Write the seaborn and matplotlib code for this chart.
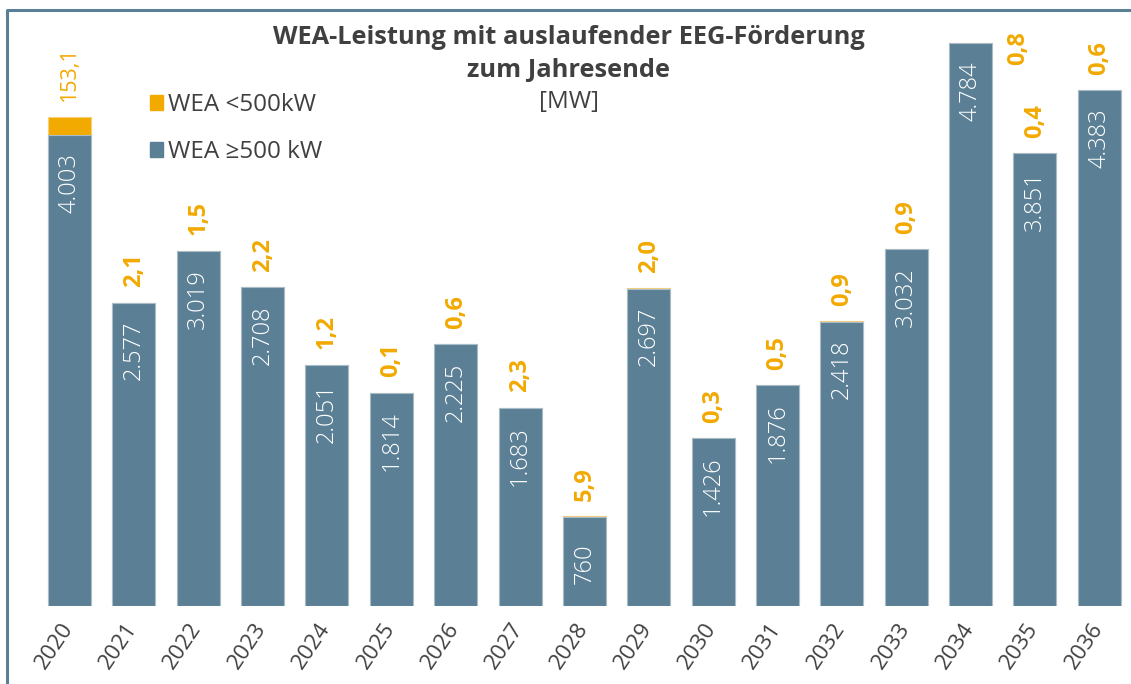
import matplotlib
matplotlib.use("Agg")
import matplotlib.pyplot as plt
import matplotlib.transforms as mtransforms
from matplotlib.patches import Patch
from matplotlib.lines import Line2D
import seaborn as sns
import pandas as pd

# Data (MW)
years = [str(y) for y in range(2020, 2037)]
wea_large = [4003, 2577, 3019, 2708, 2051, 1814, 2225, 1683, 760, 2697,
             1426, 1876, 2418, 3032, 4784, 3851, 4383]
wea_small = [153.1, 2.1, 1.5, 2.2, 1.2, 0.1, 0.6, 2.3, 5.9, 2.0,
             0.3, 0.5, 0.9, 0.9, 0.8, 0.4, 0.6]

BLUE = "#5B7F95"
ORANGE = "#F2A900"
TEXT = "#404040"

df = pd.DataFrame({"year": years, "large": wea_large, "small": wea_small})
df["total"] = df["large"] + df["small"]

sns.set_theme(style="white")
plt.rcParams["font.family"] = ["Open Sans", "DejaVu Sans"]

fig = plt.figure(figsize=(11.31, 6.84), dpi=100)
ax = fig.add_axes([0.0273, 0.114, 0.972, 0.860])

bw = 0.668
sns.barplot(data=df, x="year", y="total", color=ORANGE, saturation=1,
            width=bw, edgecolor="#F5CF7A", linewidth=0.8, ax=ax)
sns.barplot(data=df, x="year", y="large", color=BLUE, saturation=1,
            width=bw, edgecolor="#A9BCC9", linewidth=0.8, ax=ax)

ax.set_xlim(-0.6, 16.48)
ax.set_ylim(0, 5000)
ax.set_xlabel("")
ax.set_ylabel("")
ax.set_yticks([])
sns.despine(ax=ax, left=True, bottom=True)
ax.tick_params(axis="x", length=0, pad=9)
shift = mtransforms.ScaledTranslation(-7 / 72, 0, fig.dpi_scale_trans)
for lbl in ax.get_xticklabels():
    lbl.set_rotation(56)
    lbl.set_ha("right")
    lbl.set_va("top")
    lbl.set_rotation_mode("anchor")
    lbl.set_fontsize(16)
    lbl.set_color(TEXT)
    lbl.set_transform(lbl.get_transform() + shift)


def de_int(v):
    return f"{v:,}".replace(",", ".")


def de_dec(v):
    return f"{v:.1f}".replace(".", ",")


for i, (big, small) in enumerate(zip(wea_large, wea_small)):
    # white value inside bar
    inner_pad = -19 if big < 1000 else -13
    ax.annotate(de_int(big), (i, big), xytext=(0, inner_pad),
                textcoords="offset points", rotation=90, ha="center", va="top",
                color="white", fontsize=17, fontweight="light")
    # orange value above bar
    weight, size = ("normal", 15.5) if small > 100 else ("bold", 17)
    offset = (0, 11)
    if i == 14:
        offset = (34, -16)
    ax.annotate(de_dec(small), (i, big + small), xytext=offset,
                textcoords="offset points", rotation=90, ha="center", va="bottom",
                color=ORANGE, fontsize=size, fontweight=weight)

# title
fig.text(0.503, 1 - 38 / 684, "WEA-Leistung mit auslaufender EEG-Förderung",
         ha="center", va="center", fontsize=18.3, fontweight="bold", color=TEXT)
fig.text(0.503, 1 - 70 / 684, "zum Jahresende",
         ha="center", va="center", fontsize=18.3, fontweight="bold", color=TEXT)
fig.text(0.503, 1 - 102 / 684, "[MW]",
         ha="center", va="center", fontsize=17.5, color=TEXT)

# legend
handles = [Patch(facecolor=ORANGE, edgecolor=ORANGE),
           Patch(facecolor=BLUE, edgecolor=BLUE)]
leg = fig.legend(handles, ["WEA <500kW", "WEA \u2265500 kW"],
                 loc="upper left", bbox_to_anchor=(150 / 1131, 1 - 93 / 684),
                 frameon=False, fontsize=17.5, handlelength=0.55,
                 handleheight=0.55, handletextpad=0.2, labelspacing=0.95,
                 borderpad=0, borderaxespad=0)
for t in leg.get_texts():
    t.set_color(TEXT)

# outer border (left and top)
x0 = 7 / 1131
y0 = 1 - 10 / 684
fig.add_artist(Line2D([x0, x0, 1.0], [0.0, y0, y0], color=BLUE, lw=2.2,
                      transform=fig.transFigure))

fig.savefig("out.png", dpi=100)
